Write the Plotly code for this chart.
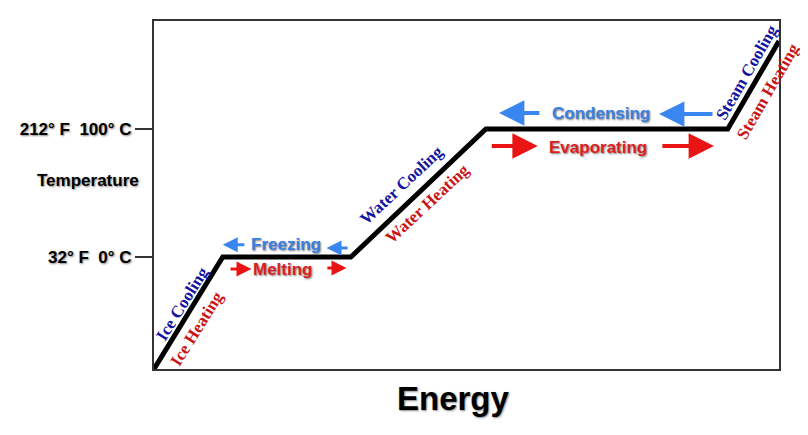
import plotly.graph_objects as go

# heating curve of water: energy added (arbitrary units) vs temperature (deg C)
energy = [0, 11, 31.5, 53.1, 91.8, 100]
temperature = [-87.5, 0, 0, 100, 100, 168.8]

tick_vals = [0, 100]
tick_text = ["32° F  0° C", "212° F  100° C"]

SANS = "Arial, Liberation Sans, sans-serif"
SERIF = "Times New Roman, Liberation Serif, serif"
NAVY = "#1414a0"
DARKRED = "#c81414"
BLUE = "#3a80e4"
RED = "#dc1e1e"
ARROW_BLUE = "#3a86f0"
ARROW_RED = "#ea1414"

fig = go.Figure()
fig.add_trace(go.Scatter(x=energy, y=temperature, mode="lines",
                         line=dict(color="black", width=5),
                         hoverinfo="skip", showlegend=False))

# slanted labels along the sloped parts
slopes = [
    ("Ice Cooling", 4.6, -36.5, -58, NAVY),
    ("Ice Heating", 6.9, -56, -58, DARKRED),
    ("Water Cooling", 39.6, 55.5, -43, NAVY),
    ("Water Heating", 43.8, 41.5, -43, DARKRED),
    ("Steam Cooling", 94.8, 144.5, -60, NAVY),
    ("Steam Heating", 98.2, 129.5, -60, DARKRED),
]
for txt, x, y, ang, col in slopes:
    fig.add_annotation(x=x, y=y, text="<b>%s</b>" % txt, showarrow=False,
                       textangle=ang, font=dict(family=SERIF, size=17, color=col))

# phase change labels on the flat parts
phases = [
    ("Freezing", 21.1, 9.6, BLUE),
    ("Melting", 20.6, -9.4, RED),
    ("Condensing", 71.5, 112.5, BLUE),
    ("Evaporating", 71.0, 85.2, RED),
]
for txt, x, y, col in phases:
    fig.add_annotation(x=x, y=y, text="<b>%s</b>" % txt, showarrow=False,
                       font=dict(family=SANS, size=17, color=col,
                                 shadow="1px 1px 2px #777"))

# direction arrows (tail -> head)
arrows = [
    (14.7, 11.0, 9.6, ARROW_BLUE, 1.0),
    (31.2, 27.6, 7.0, ARROW_BLUE, 1.0),
    (12.0, 15.6, -9.4, ARROW_RED, 1.0),
    (27.5, 30.8, -8.6, ARROW_RED, 1.0),
    (61.9, 55.2, 112.5, ARROW_BLUE, 1.3),
    (89.6, 80.8, 111.7, ARROW_BLUE, 1.3),
    (53.8, 61.4, 86.7, ARROW_RED, 1.3),
    (81.1, 89.6, 86.7, ARROW_RED, 1.3),
]
for x0, x1, y, col, sz in arrows:
    fig.add_annotation(x=x1, y=y, ax=x0, ay=y, axref="x", ayref="y",
                       text="", showarrow=True, arrowhead=2, arrowsize=sz,
                       arrowwidth=3 * sz, arrowcolor=col)

fig.add_annotation(xref="paper", x=-0.106, y=59.4, xanchor="center",
                   yanchor="middle", text="<b>Temperature</b>",
                   showarrow=False,
                   font=dict(family=SANS, size=17, color="black",
                             shadow="1px 1px 2px #888"))
fig.add_annotation(xref="paper", yref="paper", x=0.479, y=-0.085,
                   xanchor="center", yanchor="middle",
                   text="<b>Energy</b>", showarrow=False,
                   font=dict(family=SANS, size=33, color="black",
                             shadow="1px 1px 2px #888"))

fig.update_xaxes(range=[0, 100], showgrid=False, zeroline=False,
                 showticklabels=False, ticks="", mirror=True,
                 showline=True, linecolor="#333", linewidth=2)
fig.update_yaxes(range=[-87.5, 184.4], showgrid=False, zeroline=False,
                 tickvals=tick_vals, ticktext=tick_text,
                 ticks="outside", ticklen=17, tickwidth=2, tickcolor="#333",
                 tickfont=dict(family=SANS, size=17, color="black",
                               weight="bold", shadow="1px 1px 2px #888"),
                 mirror=True, showline=True, linecolor="#333", linewidth=2)

# page body adds ~7px offset, so the figure is a bit smaller than the window
fig.update_layout(width=800, height=427,
                  margin=dict(l=146, r=29, t=13, b=66),
                  plot_bgcolor="white", paper_bgcolor="white")

fig.write_html("out.html")
